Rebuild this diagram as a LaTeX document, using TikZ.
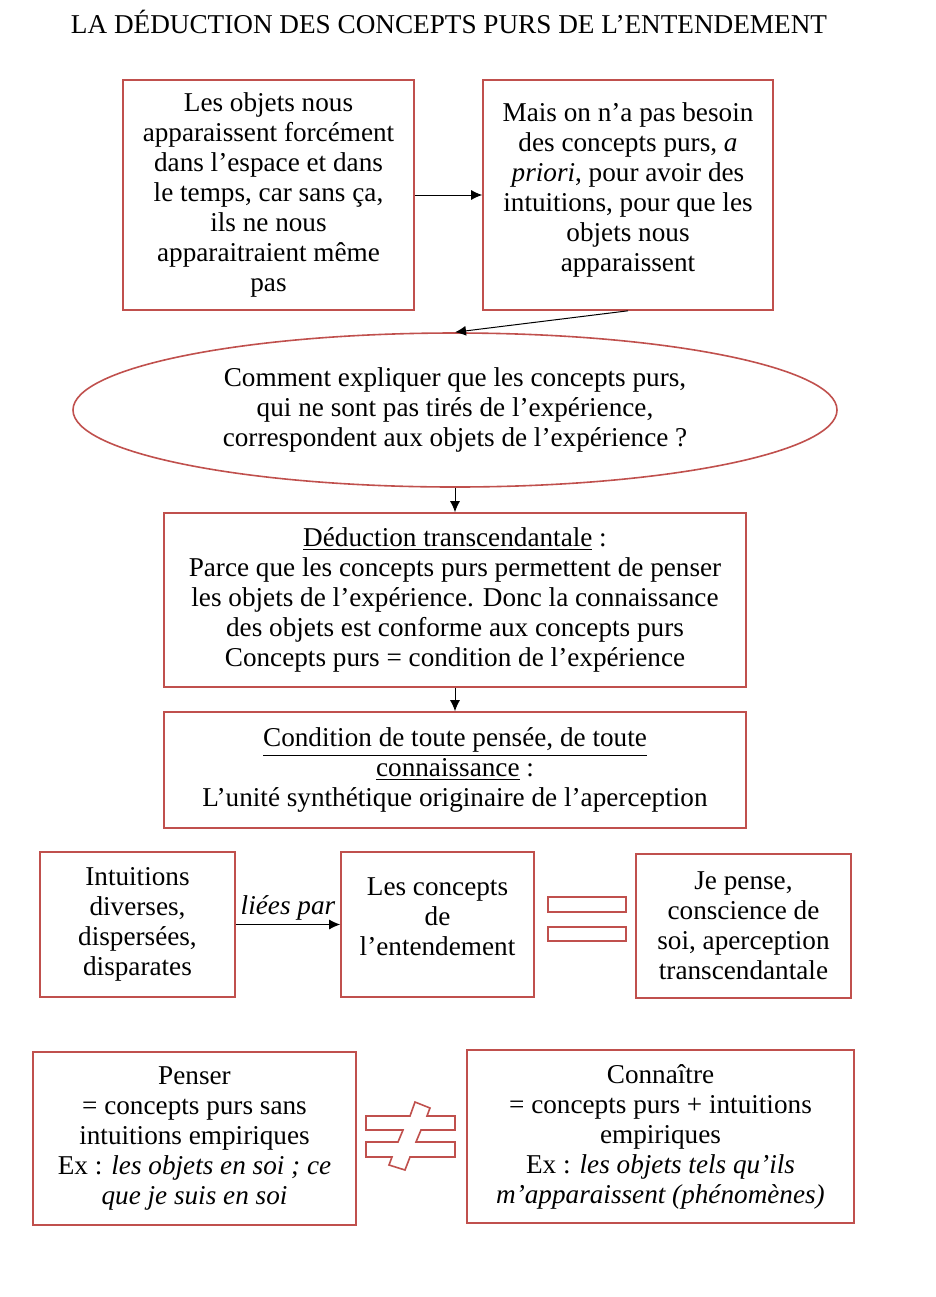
\documentclass[tikz,border=0pt]{standalone}
\usepackage{fontspec}
\setmainfont{Liberation Serif}
\usepackage{xcolor}
\usepackage{tikz}
\usetikzlibrary{shapes.geometric}
\usetikzlibrary{arrows.meta}
\definecolor{rouge}{RGB}{192,80,77}

\begin{document}
\begin{tikzpicture}[x=0.5pt, y=-0.5pt,
  texte/.style={font=\fontsize{13.6}{15}\selectfont},
  boite/.style={texte, draw=rouge, line width=0.8pt, align=center, inner sep=0pt},
  fleche/.style={-{Latex[length=5.5pt, width=5pt]}, line width=0.5pt}]
\useasboundingbox (0,0) rectangle (936,1297);

\node[texte] (titre) at (449,22) {LA DÉDUCTION DES CONCEPTS PURS DE L’ENTENDEMENT};

\node[boite, minimum width=145.5pt, minimum height=115pt] (objets) at (268.5,195)
  {Les objets nous\\ apparaissent forcément\\ dans l’espace et dans\\ le temps, car sans ça,\\ ils ne nous\\ apparaitraient même\\ pas};
\node[boite, minimum width=145pt, minimum height=115pt] (besoin) at (628,195)
  {Mais on n’a pas besoin\\ des concepts purs, \textit{a}\\ \textit{priori}, pour avoir des\\ intuitions, pour que les\\ objets nous\\ apparaissent\\[-7pt]\mbox{}};
\node[boite, ellipse, minimum width=382pt, minimum height=77pt] (question) at (455,410)
  {Comment expliquer que les concepts purs,\\ qui ne sont pas tirés de l’expérience,\\ correspondent aux objets de l’expérience ?};
\node[boite, minimum width=291pt, minimum height=87pt] (deduction) at (455,600)
  {\underline{Déduction transcendantale} :\\ Parce que les concepts purs permettent de penser\\ les objets de l’expérience. Donc la connaissance\\ des objets est conforme aux concepts purs\\ Concepts purs = condition de l’expérience};
\node[boite, minimum width=291pt, minimum height=58pt] (condition) at (455,770)
  {\underline{Condition de toute pensée, de toute}\\ \underline{connaissance} :\\ L’unité synthétique originaire de l’aperception};

\node[boite, minimum width=97.5pt, minimum height=72.5pt] (intuitions) at (137.5,924.5)
  {Intuitions\\ diverses,\\ dispersées,\\ disparates};
\node[boite, minimum width=96.5pt, minimum height=72.5pt] (concepts) at (437.5,924.5)
  {Les concepts\\ de\\ l’entendement\\[-7pt]\mbox{}};
\node[boite, minimum width=107.5pt, minimum height=72pt] (jepense) at (743.5,926)
  {Je pense,\\ conscience de\\ soi, aperception\\ transcendantale};

\node[boite, minimum width=161.5pt, minimum height=86.5pt] (penser) at (194.5,1138.5)
  {Penser\\ = concepts purs sans\\ intuitions empiriques\\ Ex : \textit{les objets en soi ; ce}\\ \textit{que je suis en soi}};
\node[boite, minimum width=193.5pt, minimum height=86.5pt] (connaitre) at (660.5,1136.5)
  {Connaître\\ = concepts purs + intuitions\\ empiriques\\ Ex : \textit{les objets tels qu’ils}\\ \textit{m’apparaissent (phénomènes)}};

% fleches
\draw[fleche] (objets) -- (besoin);
\draw[fleche] (besoin.south) -- (question.north);
\draw[fleche] (question.south) -- (deduction.north);
\draw[fleche] (deduction.south) -- (condition.north);
\draw[fleche] (intuitions) -- node[texte, above, inner sep=2pt] {\textit{liées par}} (concepts);

% signe egal
\filldraw[draw=rouge, fill=white, line width=0.8pt] (548,897) rectangle (626,912);
\filldraw[draw=rouge, fill=white, line width=0.8pt] (548,927) rectangle (626,941);

% signe different
\filldraw[draw=rouge, fill=white, line width=0.8pt]
  (366,1116) -- (410,1116) -- (415,1102) -- (430,1108) -- (427,1116) -- (455,1116)
  -- (455,1130) -- (421,1130) -- (416,1142) -- (455,1142) -- (455,1157)
  -- (410,1157) -- (405,1170) -- (389,1165) -- (392,1157) -- (366,1157)
  -- (366,1142) -- (398,1142) -- (403,1130) -- (366,1130) -- cycle;
\end{tikzpicture}
\end{document}
